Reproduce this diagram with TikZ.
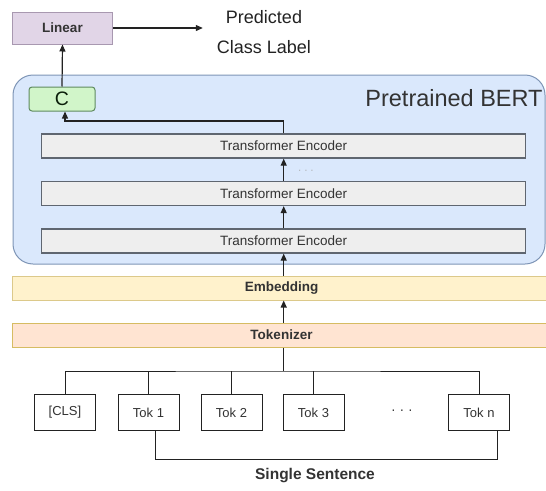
\documentclass[tikz,border=0pt]{standalone}
\usepackage{fontspec}
\setmainfont{Liberation Sans}
\usetikzlibrary{arrows.meta,calc}

\definecolor{txt}{HTML}{333333}
\definecolor{ink}{HTML}{222222}
\definecolor{bertfill}{HTML}{DAE8FC}
\definecolor{bertline}{HTML}{7E95B6}
\definecolor{encfill}{HTML}{EEEEEE}
\definecolor{encline}{HTML}{5F6670}
\definecolor{linfill}{HTML}{E1D5E7}
\definecolor{linline}{HTML}{A898B0}
\definecolor{cfill}{HTML}{D1F5C9}
\definecolor{cline}{HTML}{5F8A5F}
\definecolor{embfill}{HTML}{FFF2CC}
\definecolor{embline}{HTML}{DCC98A}
\definecolor{tokfill}{HTML}{FFE4D2}
\definecolor{tokline}{HTML}{D6BC62}

\begin{document}
\begin{tikzpicture}[x=1pt,y=-1pt,
  every node/.style={inner sep=0pt, text=txt},
  lbl/.style={font=\fontsize{13.5}{16}\selectfont},
  encbox/.style={draw=encline, fill=encfill, line width=1.3pt,
    minimum width=484pt, minimum height=24pt, lbl},
  bandbox/.style={line width=1pt, minimum width=538pt, minimum height=24pt,
    font=\fontsize{13.5}{16}\selectfont\bfseries},
  tokbox/.style={draw=ink, fill=white, line width=1pt,
    minimum width=61pt, minimum height=36.5pt, font=\fontsize{13}{15}\selectfont},
  arr/.style={draw=ink, line width=1.2pt,
    -{Triangle[length=7pt,width=6pt]}},
  wire/.style={draw=ink, line width=1pt}
]
\useasboundingbox (0,0) rectangle (546,490);

% BERT container with its title
\node[draw=bertline, fill=bertfill, line width=1pt, rounded corners=20pt,
      minimum width=532pt, minimum height=189pt] (bert) at (279,169.5) {};
\node[font=\fontsize{23.5}{26}\selectfont] (berttitle) at (454,98) {Pretrained BERT};

% encoder stack
\node[encbox] (enc3) at (283.7,146) {Transformer Encoder};
\node[encbox] (enc2) at (283.7,193.5) {Transformer Encoder};
\node[encbox] (enc1) at (283.7,241) {Transformer Encoder};
\node[font=\fontsize{10}{12}\selectfont, text=gray!70] (encdots) at (306,172) {· · ·};

% classification head
\node[draw=cline, fill=cfill, line width=1pt, rounded corners=3pt,
      minimum width=66pt, minimum height=24pt,
      font=\fontsize{19.5}{22}\selectfont, text=ink!80!green!40!black] (cbox) at (62,99) {C};
\node[draw=linline, fill=linfill, line width=1pt,
      minimum width=100pt, minimum height=32pt,
      font=\fontsize{13.5}{16}\selectfont\bfseries] (lin) at (62.5,28) {Linear};
\node[align=center, inner xsep=14pt, text=ink,
      font=\fontsize{18}{30}\selectfont] (pred) at (264,32) {Predicted\\Class Label};

% embedding and tokenizer bands
\node[bandbox, draw=embline, fill=embfill] (emb) at (281.5,288) {Embedding};
\node[bandbox, draw=tokline, fill=tokfill] (tok) at (281.5,335) {Tokenizer};

% input tokens
\node[tokbox] (cls) at (65,412.5) {[CLS]};
\node[tokbox] (t1) at (148.5,412.5) {Tok 1};
\node[tokbox] (t2) at (231.5,412.5) {Tok 2};
\node[tokbox] (t3) at (313.5,412.5) {Tok 3};
\node[font=\fontsize{14}{16}\selectfont] (tokdots) at (402,412) {· · ·};
\node[tokbox] (tn) at (479,412.5) {Tok n};
\node[font=\fontsize{15.5}{18}\selectfont\bfseries] (sent) at (315,476) {Single Sentence};

\coordinate (bus) at (283.7,371);
\coordinate (sentbar) at (320,459.3);

% token wiring
\draw[wire] (tok.south -| enc1) -- (bus);
\draw[wire] (cls.north) |- (bus) -| (tn.north);
\draw[wire] (t1.north) -- (t1.north |- bus);
\draw[wire] (t2.north) -- (t2.north |- bus);
\draw[wire] (t3.north) -- (t3.north |- bus);
\draw[wire] ([xshift=6.5pt]t1.south) |- (sentbar) -| ([xshift=18pt]tn.south);

% data flow
\draw[arr] (tok.north -| enc1) -- (emb.south -| enc1);
\draw[arr] (emb.north -| enc1) -- (enc1.south);
\draw[arr] (enc1.north) -- (enc2.south);
\draw[arr] (enc2.north) -- (enc3.south);
\draw[arr] (enc3.north) -- ++(0,-12.3) -| ([xshift=3pt]cbox.south);
\draw[arr] (cbox.north) -- (lin.south);
\draw[arr] (lin.east) -- (lin.east -| pred.west);
\end{tikzpicture}
\end{document}
